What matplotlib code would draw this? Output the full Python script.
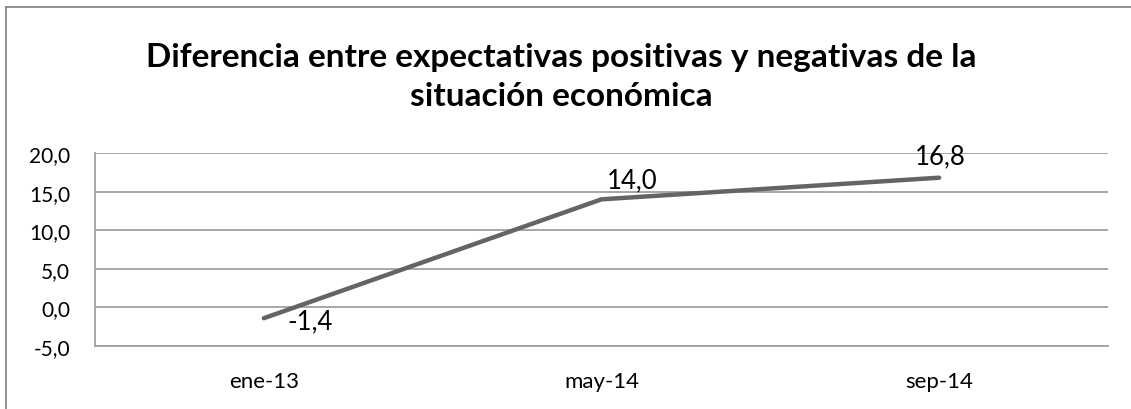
import matplotlib
matplotlib.use("Agg")
import matplotlib.pyplot as plt
from matplotlib.lines import Line2D

categories = ["ene-13", "may-14", "sep-14"]
values = [-1.4, 14.0, 16.8]
labels = ["-1,4", "14,0", "16,8"]
yticks = [-5, 0, 5, 10, 15, 20]
ytick_labels = ["-5,0", "0,0", "5,0", "10,0", "15,0", "20,0"]
title = "Diferencia entre expectativas positivas y negativas de la\nsituación económica"

plt.rcParams['font.family'] = ['Lato', 'DejaVu Sans']

W, H = 1131, 410
fig = plt.figure(figsize=(W / 100, H / 100), dpi=100)
ax = fig.add_axes([95 / W, 1 - 347 / H, (1108 - 95) / W, (347 - 154) / H])

x = list(range(len(categories)))
ax.plot(x, values, color="#646464", lw=3.2, solid_capstyle="round", zorder=3)
ax.set_xlim(-0.5, len(categories) - 0.5)
ax.set_ylim(-5, 20)
ax.set_yticks(yticks)
ax.set_yticklabels(ytick_labels, fontsize=15)
ax.set_xticks(x)
ax.set_xticklabels(categories, fontsize=16)
ax.tick_params(length=0)
ax.tick_params(axis="y", pad=18)
ax.tick_params(axis="x", pad=18)
ax.grid(axis="y", color="#a0a0a0", lw=1.3)
ax.set_axisbelow(True)
for s in ["top", "right"]:
    ax.spines[s].set_visible(False)
for s in ["left", "bottom"]:
    ax.spines[s].set_color("#a0a0a0")
    ax.spines[s].set_linewidth(1.3)

offsets = [(24, -3, "left"), (5, 20, "left"), (-24, 22, "left")]
for xi, v, lab, (dx, dy, ha) in zip(x, values, labels, offsets):
    ax.annotate(lab, (xi, v), xytext=(dx * 0.72, dy * 0.72), textcoords="offset points",
                ha=ha, va="center", fontsize=18.5, color="black")

fig.text(561 / W, 1 - 77 / H, title, ha="center", va="center", fontsize=24,
         fontweight="bold", linespacing=1.38)

# figure border (left and top)
fig.add_artist(Line2D([6 / W, 6 / W], [0, 1 - 7.5 / H], transform=fig.transFigure,
                      color="#888888", lw=1.3))
fig.add_artist(Line2D([6 / W, 1], [1 - 7.5 / H, 1 - 7.5 / H], transform=fig.transFigure,
                      color="#888888", lw=1.3))

fig.savefig("out.png", dpi=100)
